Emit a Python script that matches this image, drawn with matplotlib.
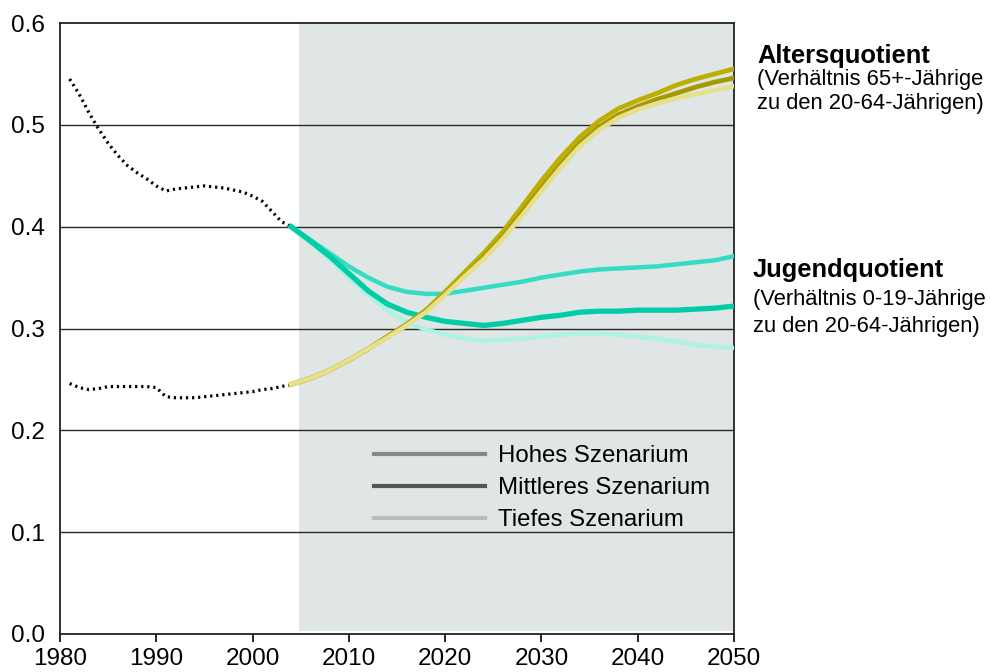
import matplotlib.pyplot as plt
import numpy as np
from matplotlib.lines import Line2D

plt.rcParams['font.family'] = ['Liberation Sans', 'DejaVu Sans']

# historische Werte (gepunktet)
jahre_hist = np.arange(1981, 2005)
alt_hist = [0.246, 0.242, 0.240, 0.241, 0.243, 0.243, 0.243, 0.243, 0.243, 0.242,
            0.233, 0.232, 0.232, 0.232, 0.233, 0.234, 0.235, 0.236, 0.237, 0.238,
            0.240, 0.241, 0.243, 0.245]
jug_hist = [0.545, 0.530, 0.512, 0.496, 0.482, 0.470, 0.460, 0.453, 0.447, 0.440,
            0.435, 0.437, 0.438, 0.439, 0.440, 0.439, 0.438, 0.436, 0.434, 0.430,
            0.425, 0.415, 0.405, 0.400]

# Szenarien 2004-2050
jahre = np.arange(2004, 2051, 2)
alt_hoch = [0.245, 0.251, 0.259, 0.269, 0.280, 0.292, 0.304, 0.318, 0.336, 0.355,
            0.374, 0.395, 0.420, 0.445, 0.468, 0.488, 0.504, 0.516, 0.524, 0.531,
            0.539, 0.545, 0.550, 0.555]
alt_mittel = [0.245, 0.251, 0.259, 0.269, 0.280, 0.292, 0.304, 0.317, 0.334, 0.352,
              0.370, 0.390, 0.414, 0.438, 0.461, 0.482, 0.498, 0.510, 0.518, 0.525,
              0.531, 0.537, 0.542, 0.546]
alt_tief = [0.245, 0.251, 0.259, 0.269, 0.280, 0.291, 0.303, 0.316, 0.333, 0.351,
            0.368, 0.388, 0.411, 0.435, 0.458, 0.479, 0.495, 0.507, 0.515, 0.521,
            0.526, 0.530, 0.534, 0.538]
jug_hoch = [0.400, 0.387, 0.374, 0.361, 0.350, 0.341, 0.336, 0.334, 0.334, 0.337,
            0.340, 0.343, 0.346, 0.350, 0.353, 0.356, 0.358, 0.359, 0.360, 0.361,
            0.363, 0.365, 0.367, 0.371]
jug_mittel = [0.400, 0.386, 0.371, 0.354, 0.337, 0.324, 0.316, 0.311, 0.307, 0.305,
              0.303, 0.305, 0.308, 0.311, 0.313, 0.316, 0.317, 0.317, 0.318, 0.318,
              0.318, 0.319, 0.320, 0.322]
jug_tief = [0.400, 0.384, 0.368, 0.350, 0.333, 0.318, 0.306, 0.299, 0.294, 0.290,
            0.288, 0.289, 0.290, 0.292, 0.294, 0.295, 0.295, 0.294, 0.292, 0.290,
            0.287, 0.284, 0.282, 0.281]

fig = plt.figure(figsize=(9.9, 6.72), dpi=100)
ax = fig.add_axes([60 / 990, 38 / 672, 674 / 990, 611 / 672])

ax.axvspan(2004.8, 2050, ymin=0.005, ymax=1, color='#dfe6e5', lw=0, zorder=0)
for y in [0.1, 0.2, 0.3, 0.4, 0.5]:
    ax.axhline(y, color='#2a2a2a', lw=1, zorder=1)

punkte = (0, (0.7, 1.2))
ax.plot(jahre_hist, alt_hist, color='black', lw=2.3, ls=punkte, zorder=3)
ax.plot(jahre_hist, jug_hist, color='black', lw=2.3, ls=punkte, zorder=3)

ax.plot(jahre, jug_hoch, color='#33dcc2', lw=3.2, zorder=4)
ax.plot(jahre, jug_tief, color='#aef2e2', lw=3.2, zorder=4)
ax.plot(jahre, jug_mittel, color='#00cca6', lw=3.8, zorder=4)
ax.plot(jahre, alt_hoch, color='#bdae00', lw=3.4, zorder=5)
ax.plot(jahre, alt_mittel, color='#a89800', lw=3.4, zorder=5)
ax.plot(jahre, alt_tief, color='#e6df8c', lw=3.4, zorder=5)

ax.set_xlim(1980, 2050)
ax.set_ylim(0, 0.6)
ax.set_xticks(range(1980, 2051, 10))
ax.set_yticks(np.arange(0, 0.61, 0.1))
ax.set_yticklabels(['0.0', '0.1', '0.2', '0.3', '0.4', '0.5', '0.6'])
ax.tick_params(axis='x', length=6, width=1.2, labelsize=17.5, pad=4)
ax.tick_params(axis='y', length=0, labelsize=17.5, pad=11)
for s in ax.spines.values():
    s.set_linewidth(1.3)
    s.set_color('#222222')

handles = [Line2D([], [], color='#888888', lw=3),
           Line2D([], [], color='#555555', lw=3),
           Line2D([], [], color='#bbbbbb', lw=3)]
ax.legend(handles, ['Hohes Szenarium', 'Mittleres Szenarium', 'Tiefes Szenarium'],
          loc='upper left', bbox_to_anchor=(0.466, 0.309), frameon=False,
          fontsize=17.3, handlelength=4.6, handletextpad=0.55, labelspacing=0.42,
          borderpad=0, borderaxespad=0)

fig.text(757 / 990, 1 - 56 / 672, 'Altersquotient', fontsize=18.4, fontweight='bold', va='center')
fig.text(757 / 990, 1 - 80 / 672, '(Verhältnis 65+-Jährige', fontsize=15.8, va='center')
fig.text(757 / 990, 1 - 104 / 672, 'zu den 20-64-Jährigen)', fontsize=15.8, va='center')
fig.text(753 / 990, 1 - 270 / 672, 'Jugendquotient', fontsize=18.4, fontweight='bold', va='center')
fig.text(753 / 990, 1 - 300 / 672, '(Verhältnis 0-19-Jährige', fontsize=15.8, va='center')
fig.text(753 / 990, 1 - 326 / 672, 'zu den 20-64-Jährigen)', fontsize=15.8, va='center')

fig.savefig('out.png', dpi=100)
